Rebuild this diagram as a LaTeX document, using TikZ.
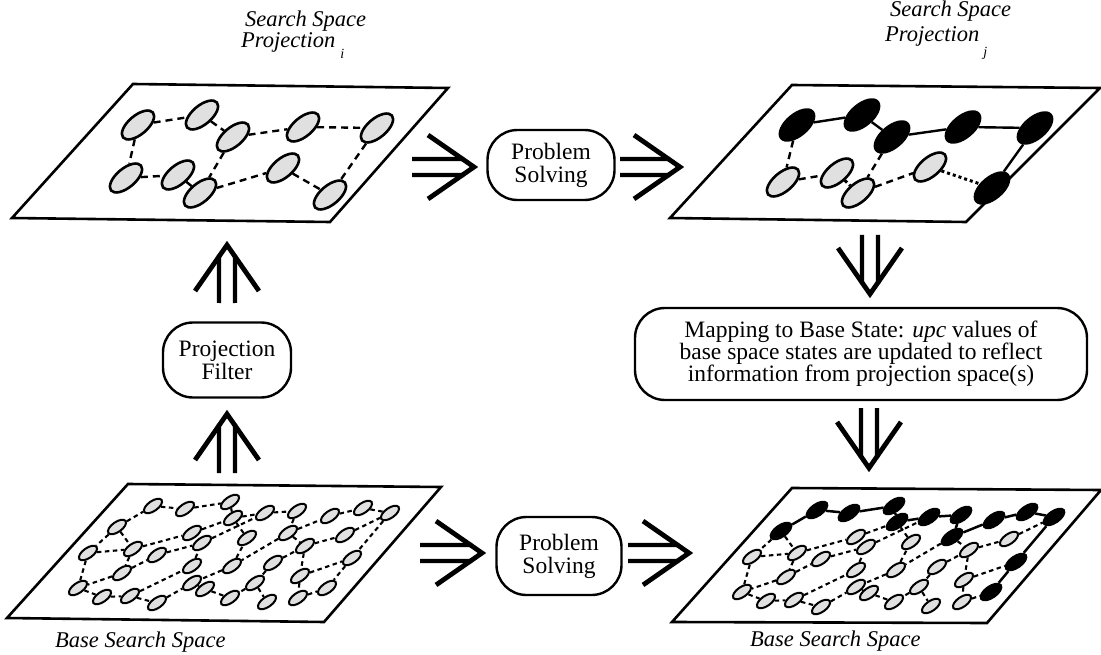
\documentclass[tikz,border=0pt]{standalone}
\usepackage{fontspec}
\setmainfont{Liberation Serif}
\usetikzlibrary{shapes.geometric,calc}

\definecolor{statefill}{gray}{0.88}

\tikzset{
  plane/.style={line width=2.6pt, line join=miter},
  bigstate/.style={ellipse, draw, line width=2.6pt, fill=statefill,
    minimum width=39pt, minimum height=19pt, inner sep=0pt, rotate=40},
  bigsolved/.style={bigstate, fill=black, minimum width=41pt, minimum height=21pt},
  smallstate/.style={ellipse, draw, line width=2pt, fill=statefill,
    minimum width=21pt, minimum height=10pt, inner sep=0pt, rotate=35},
  smallsolved/.style={smallstate, fill=black, minimum width=24pt, minimum height=11.5pt},
  bigedge/.style={line width=2.4pt, dash pattern=on 7pt off 5pt},
  bigpath/.style={line width=2.4pt},
  bigdots/.style={line width=3pt, dash pattern=on 3pt off 3pt},
  smalledge/.style={line width=2.1pt, dash pattern=on 4.5pt off 3.5pt},
  smallpath/.style={line width=2.5pt},
  procbox/.style={draw, line width=2.4pt, rounded corners=30pt, align=center,
    font=\fontsize{23.5}{23}\selectfont, inner sep=0pt},
  arrowline/.style={line width=4.2pt},
  arrowhead/.style={line width=4.8pt, line join=miter, miter limit=10},
  spacelabel/.style={font=\fontsize{22.5}{17}\selectfont\itshape, inner sep=0pt, anchor=base west},
}

% double-shafted arrow with an open chevron head, from #1 to the tip #2
\newcommand\dblarrow[2]{%
  \draw[arrowline] ($(#1)!8pt!90:(#2)$) -- ($(#2)!12.8pt!-38.66:(#1)$);
  \draw[arrowline] ($(#1)!8pt!-90:(#2)$) -- ($(#2)!12.8pt!38.66:(#1)$);
  \draw[arrowhead] ($(#2)!56pt!34.8:(#1)$) -- (#2) -- ($(#2)!56pt!-34.8:(#1)$);
}

% fine-grained base search space; #1/#2 style the nodes/edges of the solution path
\newcommand\basegraph[4]{%
  \foreach \n/\x/\y in {B2/192/533, B3/202/543, B4/247/538, B6/345/535, B7/305/546,
      C1/88/553, C2/133/549, C3/157/555, D1/122/573, D2/192/566, D3/232/566,
      D4/273/563, D5/300/576, E1/78/588, E2/192/583, E3/205/589, E4/255/583,
      F1/102/597, F2/130/596, F3/157/603, F4/230/598, F5/267/602, F6/298/598}
    \node[#3] (\n) at (\x,\y) {};
  \foreach \n/\x/\y in {A1/153/506, A2/185/509, A3/230/502, A4/233/518, A5/265/513,
      A6/297/511, A7/330/516, A8/363/508, A9/390/513, B1/117/527, B5/288/533,
      C4/352/558, E5/327/588}
    \node[#1] (\n) at (\x,\y) {};
  \foreach \a/\b in {B1/C1, B1/C2, C1/C2, C2/B2, C3/B3, B2/A4, B3/A5, C1/E1,
      C2/D1, D1/E1, D1/C3, E1/F1, F1/F2, F2/F3, F2/D2, D2/B3, F3/E2, E2/E3,
      E3/F4, D3/E2, D3/B4, B4/A4, B5/D3, B5/B7, B7/B6, B6/A9, B7/D5, D5/C4,
      D5/F6, F6/E5, D4/E4, E4/F4, E4/F5, D4/B7}
    \draw[#4] (\a) -- (\b);
  \foreach \a/\b in {B1/A1, A1/A2, A2/A3, A3/A4, A4/A5, A5/A6, A6/B5, B5/A7,
      A7/A8, A8/A9, A9/C4, C4/E5}
    \draw[#2] (\a) -- (\b);
}

\begin{document}
\begin{tikzpicture}[x=1pt,y=-1pt]
\useasboundingbox (0,0) rectangle (1101,655);

% ---- the four planes
\draw[plane] (133,84) -- (448,88) -- (330,222) -- (12,218) -- cycle;
\draw[plane] (792,85) -- (1100,88) -- (966,222) -- (670,218) -- cycle;
\draw[plane] (128,484) -- (441,487) -- (324,622) -- (7,618) -- cycle;
\draw[plane] (792,488) -- (1101,490) -- (987,623) -- (672,622) -- cycle;

% ---- projection i: abstract states
\foreach \n/\x/\y in {P1/138/125, P2/202/115, P3/233/137, P4/303/127, P5/377/128,
    P6/126/178, P7/178/175, P8/200/193, P9/283/168, P10/330/195}
  \node[bigstate] (\n) at (\x,\y) {};
\foreach \a/\b in {P1/P2, P2/P3, P3/P4, P4/P5, P1/P6, P6/P7, P7/P8, P3/P8,
    P8/P9, P9/P10, P5/P10}
  \draw[bigedge] (\a) -- (\b);

% ---- projection j: solved abstract path in black
\foreach \n/\x/\y in {Q1/797/125, Q2/862/115, Q3/892/137, Q4/963/127, Q5/1035/128, Q10/992/188}
  \node[bigsolved] (\n) at (\x,\y) {};
\foreach \n/\x/\y in {Q6/783/182, Q7/837/173, Q8/858/193, Q9/930/167}
  \node[bigstate] (\n) at (\x,\y) {};
\foreach \a/\b in {Q1/Q2, Q2/Q3, Q3/Q4, Q4/Q5, Q5/Q10}
  \draw[bigpath] (\a) -- (\b);
\foreach \a/\b in {Q1/Q6, Q6/Q7, Q3/Q8, Q8/Q9}
  \draw[bigedge] (\a) -- (\b);
\draw[bigdots] (Q7) -- (Q8);
\draw[bigdots] (Q9) -- (Q10);

% ---- base search spaces
\begin{scope}[name prefix=bl-]
  \basegraph{smallstate}{smalledge}{smallstate}{smalledge}
\end{scope}
\begin{scope}[shift={(664,4)}, name prefix=br-]
  \basegraph{smallsolved}{smallpath}{smallstate}{smalledge}
\end{scope}

% ---- process boxes
\node[procbox, minimum width=127pt, minimum height=70pt] (solveTop) at (551,165) {Problem\\Solving};
\node[procbox, minimum width=125pt, minimum height=78pt] (solveBase) at (559,556) {Problem\\Solving};
\node[procbox, minimum width=128pt, minimum height=75pt] (filter) at (227,360) {Projection\\Filter};
\node[procbox, minimum width=452pt, minimum height=92pt, font=\fontsize{23.5}{22}\selectfont] (mapping) at (861,354)
  {Mapping to Base State: \textit{upc} values of\\base space states are updated to reflect\\information from projection space(s)};

% ---- labels
\node[spacelabel] (labIa) at (245,27) {Search Space};
\node[spacelabel] (labIb) at (241,48) {Projection\hspace{5pt}\raisebox{-11pt}{\fontsize{14}{14}\selectfont i}};
\node[spacelabel] (labJa) at (890,17) {Search Space};
\node[spacelabel] (labJb) at (885,42) {Projection\hspace{4pt}\raisebox{-15pt}{\fontsize{14}{14}\selectfont j}};
\node[spacelabel] (labBase) at (55,647) {Base Search Space};
\node[spacelabel] (labBaseSolved) at (750,646) {Base Search Space};

% ---- arrows
\coordinate (h1s) at (412,167); \coordinate (h1e) at (474,167);
\coordinate (h2s) at (620,167); \coordinate (h2e) at (680,167);
\coordinate (h3s) at (420,553); \coordinate (h3e) at (482,553);
\coordinate (h4s) at (628,553); \coordinate (h4e) at (689,553);
\coordinate (v1s) at (227,473); \coordinate (v1e) at (227,414);
\coordinate (v2s) at (227,303); \coordinate (v2e) at (227,245);
\coordinate (v3s) at (870,235); \coordinate (v3e) at (870,294);
\coordinate (v4s) at (869,408); \coordinate (v4e) at (869,468);
\dblarrow{h1s}{h1e}
\dblarrow{h2s}{h2e}
\dblarrow{h3s}{h3e}
\dblarrow{h4s}{h4e}
\dblarrow{v1s}{v1e}
\dblarrow{v2s}{v2e}
\dblarrow{v3s}{v3e}
\dblarrow{v4s}{v4e}
\end{tikzpicture}
\end{document}
